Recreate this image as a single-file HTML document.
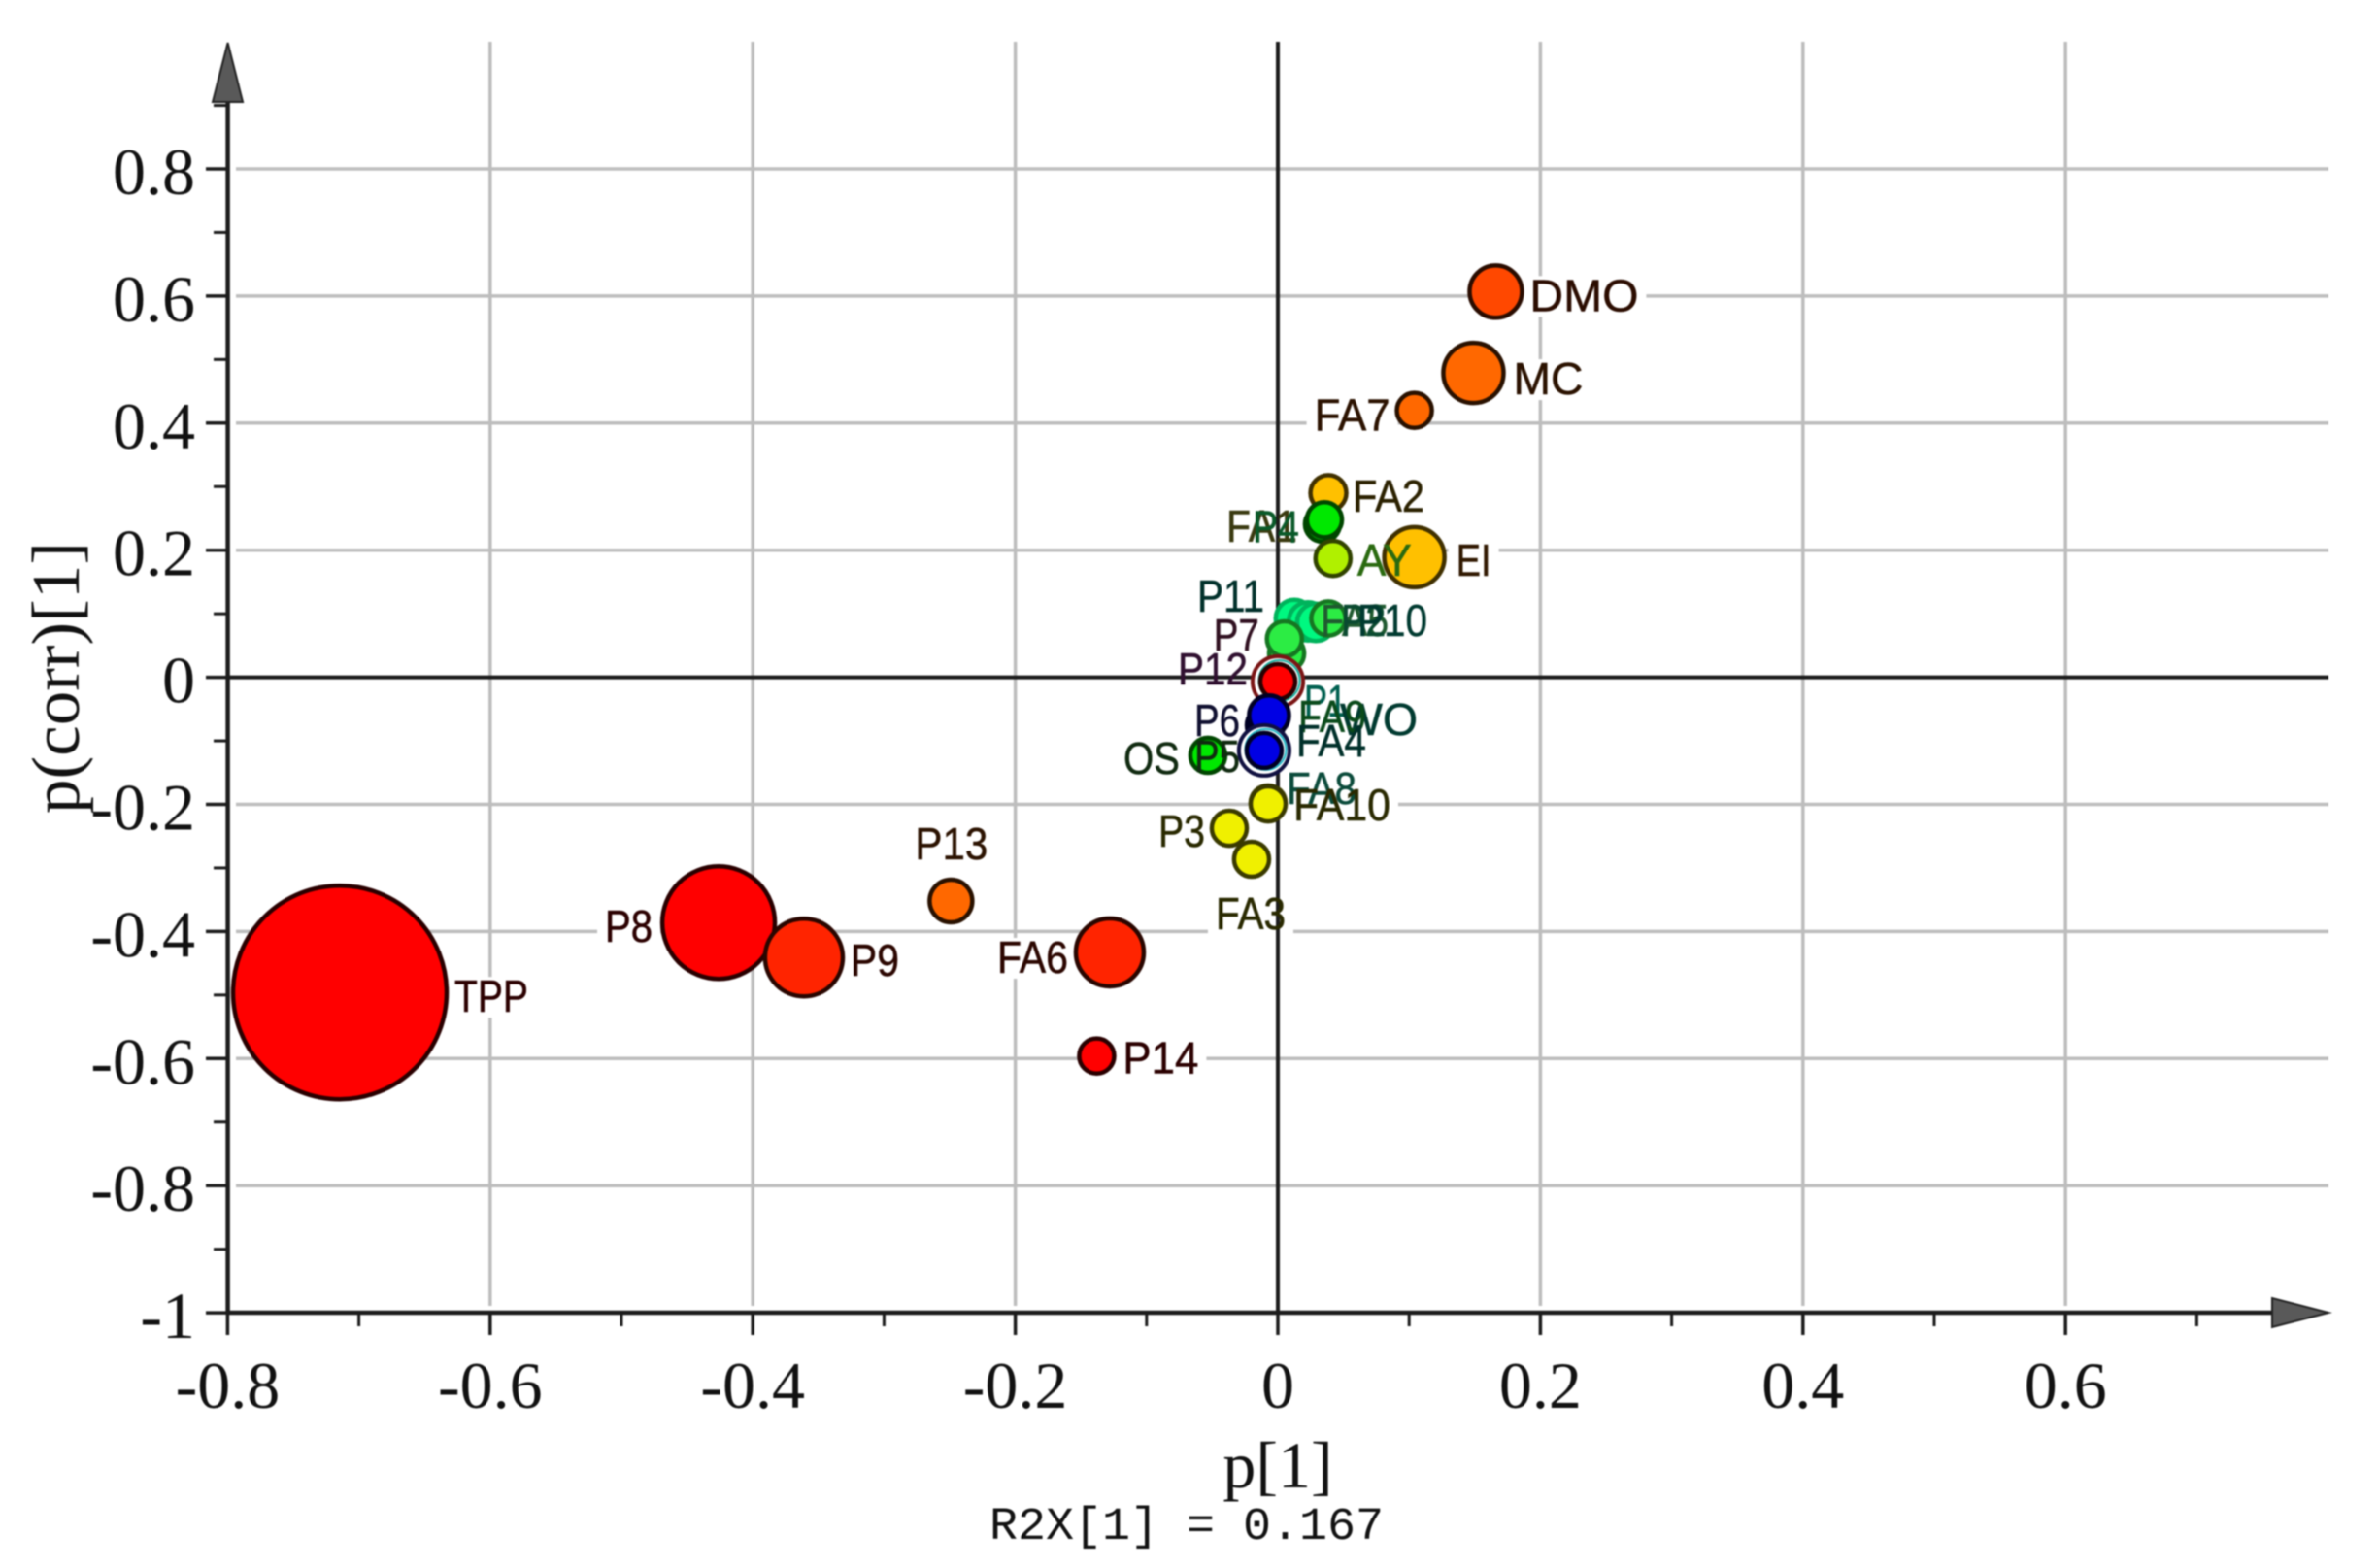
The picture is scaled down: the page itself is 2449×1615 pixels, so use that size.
<!DOCTYPE html>
<html lang="en">
<head>
<meta charset="utf-8">
<title>OPLS-DA S-plot</title>
<style>
  html, body { margin: 0; padding: 0; background: #fff; }
  body { width: 2449px; height: 1615px; overflow: hidden; }
  svg { display: block; filter: blur(0.8px); }
</style>
</head>
<body>
<svg id="chart" xmlns="http://www.w3.org/2000/svg" width="2449" height="1615" viewBox="0 0 2449 1615"></svg>
<script>
// ---- chart data ----
const names = ['TPP','P8','P9','P13','FA6','P14','DMO','MC','FA7','FA2','FA1','AY','P4','EI','P11','FA5','P2','P10','P1','P7','P12','P5','P6','WO','FA9','FA4','OS','FA8','FA10','P3','FA3'];
const pValues = [-0.7145,-0.426,-0.361,-0.249,-0.128,-0.138,0.166,0.149,0.104,0.0385,0.034,0.042,0.0355,0.104,0.0126,0.023,0.029,0.0385,0.0067,0.005,0,-0.0118,-0.0096,-0.0081,-0.0067,-0.0104,-0.0533,-0.0074,-0.0074,-0.037,-0.020];
const pCorrValues = [-0.496,-0.386,-0.441,-0.352,-0.433,-0.596,0.607,0.479,0.420,0.290,0.241,0.187,0.248,0.189,0.0926,0.088,0.0865,0.0926,0.0376,0.0605,-0.0067,-0.1106,-0.0755,-0.0678,-0.060,-0.115,-0.1228,-0.1977,-0.1993,-0.2375,-0.2863];
const sizeValues = [1.0,0.527,0.364,0.20,0.318,0.164,0.245,0.282,0.164,0.168,0.164,0.164,0.164,0.282,0.175,0.18,0.175,0.16,0.164,0.164,0.164,0.164,0.173,0.173,0.187,0.164,0.164,0.164,0.164,0.164,0.164];
const colorLevels = ['red','red','scarlet','orange','scarlet','red','vermilion','orange','orange','amber','green','lime','green','amber','mint','mint','mint','spring','spring','spring','red','blue','blue','blue','blue','blue','green','yellow','yellow','yellow','yellow'];
const xTickLabels = ['-0.8','-0.6','-0.4','-0.2','0','0.2','0.4','0.6'];
const yTickLabels = ['0.8','0.6','0.4','0.2','0','-0.2','-0.4','-0.6','-0.8','-1'];
const xMinorTicks = [-0.7,-0.5,-0.3,-0.1,0.1,0.3,0.5,0.7];
const yMinorTicks = [0.9,0.7,0.5,0.3,0.1,-0.1,-0.3,-0.5,-0.7,-0.9];
const xAxisTitle = 'p[1]';
const yAxisTitle = 'p(corr)[1]';
const varianceNote = 'R2X[1] = 0.167';

// ---- scales ----
function xScale(v) { return 1316 + v * 1352; }
function yScale(v) { return 697.6 - v * 654.5; }
function radiusScale(v) { return v * 110; }

// ---- rendering styles ----
const palette = { red:'#ff0000', scarlet:'#ff2400', vermilion:'#ff4800', orange:'#ff6800', amber:'#ffc000', yellow:'#f0f000', lime:'#b0f000', green:'#00e800', spring:'#2cec44', mint:'#00f880', blue:'#0000e4' };
const strokeShade = { red:0.16, scarlet:0.16, vermilion:0.16, orange:0.16, amber:0.25, yellow:0.24, lime:0.28, green:0.3, spring:0.5, mint:0.72, blue:0.16 };
// label placement relative to its bubble: dx, dy to the baseline start, and the printed width
const labelPlacement = {
  TPP:[118,20,76], P8:[-117,20,49], P9:[48,19,50], P13:[-37,-43,75], FA6:[-116,21,73], P14:[27,18,78],
  DMO:[35,20,112], MC:[41,22,72], FA7:[-103,21,78], FA2:[25,19,74], FA1:[-99,18,73], P4:[-74,23,48],
  AY:[25,18,56], EI:[43,19,36], P11:[-100,-7,69], FA5:[13,15,70], P2:[26,14,46], P10:[30,18,72],
  P1:[18,65,44], P7:[-73,12,47], P12:[-103,3,72], P5:[-70,25,47], P6:[-73,11,47], WO:[75,15,80],
  FA9:[30,17,70], FA4:[33,6,72], OS:[-87,19,58], FA8:[19,1,72], FA10:[26,17,100], P3:[-73,19,48], FA3:[-37,72,72]
};
const labelInk = {
  FA1:'#3a3a10', P4:'#0a5a2a', AY:'#2a6a10', EI:'#301800', P11:'#00302a', FA5:'#205a30', P2:'#0a4a30', P10:'#003a30',
  P1:'#006050', P7:'#301020', P12:'#301030', P5:'#102a10', P6:'#101030', WO:'#003a30', FA9:'#0a4a1a', FA4:'#00302a',
  OS:'#102a10', FA8:'#0a4a3a'
};
const selectionRings = { P12:['#7a1414','#18b0a0'], FA4:['#101040','#20b8c8'] };

const NS = 'http://www.w3.org/2000/svg';
const svg = document.getElementById('chart');

function make(tag, attrs, parent) {
  const el = document.createElementNS(NS, tag);
  for (const k in attrs) el.setAttribute(k, attrs[k]);
  (parent || svg).appendChild(el);
  return el;
}
function shade(hex, f) {
  const n = parseInt(hex.slice(1), 16);
  const c = [(n >> 16) & 255, (n >> 8) & 255, n & 255].map(function (v) { return Math.round(v * f); });
  return 'rgb(' + c.join(',') + ')';
}
function parseTick(s) { return parseFloat(s); }

const LEFT = 234.6, BOTTOM = 1352, RIGHT = 2398, TOP = 43;
const serif = '"Liberation Serif", serif';
const sans = '"Liberation Sans", sans-serif';
const mono = '"Liberation Mono", monospace';

// ---- grid ----
xTickLabels.forEach(function (t) {
  const v = parseTick(t);
  if (v === 0 || v === -0.8) return;
  const line = make('line', { x1: xScale(v), x2: xScale(v), y1: TOP, y2: 1345, stroke: '#bdbdbd', 'stroke-width': 3.5 });
  
  
});
yTickLabels.forEach(function (t) {
  const v = parseTick(t);
  if (v === 0 || v === -1) return;
  const line = make('line', { x1: 243, x2: RIGHT, y1: yScale(v), y2: yScale(v), stroke: '#bdbdbd', 'stroke-width': 3.5 });
  
  
});

// ---- white patches that interrupt the grid behind labels ----
names.forEach(function (name, i) {
  const pl = labelPlacement[name];
  const patch = make('rect', {
    x: xScale(pValues[i]) + pl[0] - 8,
    y: yScale(pCorrValues[i]) + pl[1] - 36,
    width: pl[2] + 16,
    height: 42,
    fill: '#fff'
  });
  
  
});

// ---- axes ----
const zeroH = make('line', { x1: LEFT, x2: RIGHT, y1: yScale(0), y2: yScale(0), stroke: '#1c1c1c', 'stroke-width': 4 });


const zeroV = make('line', { x1: xScale(0), x2: xScale(0), y1: TOP, y2: BOTTOM, stroke: '#1c1c1c', 'stroke-width': 4 });


const xAxis = make('line', { x1: LEFT, x2: 2345, y1: BOTTOM, y2: BOTTOM, stroke: '#1c1c1c', 'stroke-width': 4.5 });


const yAxis = make('line', { x1: LEFT, x2: LEFT, y1: 100, y2: BOTTOM + 2, stroke: '#1c1c1c', 'stroke-width': 4.5 });


const arrowY = make('polygon', { points: '234.6,44 219,105 250,105', fill: '#595959', stroke: '#222', 'stroke-width': 2 });


const arrowX = make('polygon', { points: '2340,1337 2340,1367 2398,1352', fill: '#595959', stroke: '#222', 'stroke-width': 2 });



// ---- ticks and tick labels ----
xTickLabels.forEach(function (t) {
  const x = xScale(parseTick(t));
  const tick = make('line', { x1: x, x2: x, y1: BOTTOM, y2: 1375, stroke: '#1c1c1c', 'stroke-width': 3.5 });
  
  
  const label = make('text', { x: x, y: 1450, 'text-anchor': 'middle', 'font-family': serif, 'font-size': 68, fill: '#111' });
  
  
  label.textContent = t;
});
xMinorTicks.forEach(function (v) {
  const tick = make('line', { x1: xScale(v), x2: xScale(v), y1: BOTTOM, y2: 1366, stroke: '#1c1c1c', 'stroke-width': 3 });
  
  
});
yTickLabels.forEach(function (t) {
  const y = yScale(parseTick(t));
  const tick = make('line', { x1: 212, x2: LEFT, y1: y, y2: y, stroke: '#1c1c1c', 'stroke-width': 3.5 });
  
  
  const label = make('text', { x: 201, y: y + 26, 'text-anchor': 'end', 'font-family': serif, 'font-size': 68, fill: '#111' });
  
  
  label.textContent = t;
});
yMinorTicks.forEach(function (v) {
  const tick = make('line', { x1: 220, x2: LEFT, y1: yScale(v), y2: yScale(v), stroke: '#1c1c1c', 'stroke-width': 3 });
  
  
});

// ---- bubbles ----
names.forEach(function (name, i) {
  const cx = xScale(pValues[i]);
  const cy = yScale(pCorrValues[i]);
  const r = radiusScale(sizeValues[i]);
  const level = colorLevels[i];
  const fill = palette[level];
  const ring = selectionRings[name];
  if (ring) {
    const outer = make('circle', { cx: cx, cy: cy, r: r + 8, fill: '#fff', stroke: ring[0], 'stroke-width': 4 });
    
    
    const inner = make('circle', { cx: cx + 1.5, cy: cy - 1, r: r + 3, fill: 'none', stroke: ring[1], 'stroke-width': 2 });
    
    
  }
  const dot = make('circle', { cx: cx, cy: cy, r: r, fill: fill, stroke: shade(fill, strokeShade[level]), 'stroke-width': 4.5 });
  
  
});

// ---- bubble labels ----
names.forEach(function (name, i) {
  const pl = labelPlacement[name];
  const ink = labelInk[name] || shade(palette[colorLevels[i]], 0.17);
  const label = make('text', {
    x: xScale(pValues[i]) + pl[0],
    y: yScale(pCorrValues[i]) + pl[1],
    'font-family': sans,
    'font-size': 46,
    fill: ink,
    stroke: ink,
    'stroke-width': 0.5,
    textLength: pl[2],
    lengthAdjust: 'spacingAndGlyphs'
  });
  
  
  label.textContent = name;
});

// ---- titles ----
const xTitle = make('text', { x: 1316, y: 1532, 'text-anchor': 'middle', 'font-family': serif, 'font-size': 68, fill: '#111' });


xTitle.textContent = xAxisTitle;

const yTitle = make('text', { x: 0, y: 0, 'text-anchor': 'middle', 'font-family': serif, 'font-size': 70, fill: '#111', textLength: 280, lengthAdjust: 'spacingAndGlyphs', transform: 'translate(81,698) rotate(-90)' });


yTitle.textContent = yAxisTitle;

const note = make('text', { x: 1019, y: 1585, 'font-family': mono, 'font-size': 47, fill: '#111', textLength: 406, lengthAdjust: 'spacingAndGlyphs' });


note.textContent = varianceNote;
</script>
</body>
</html>
